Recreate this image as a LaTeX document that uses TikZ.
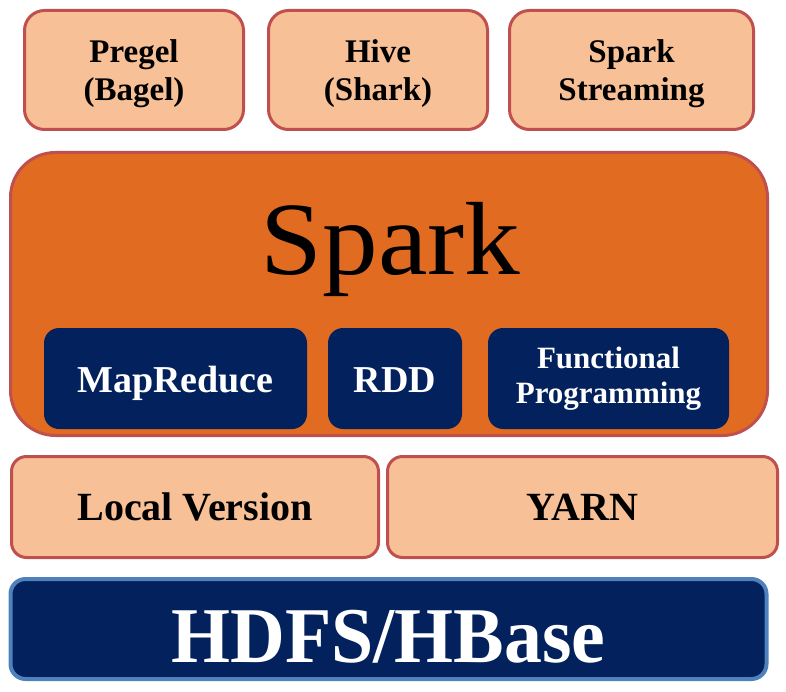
\documentclass[tikz,border=0pt]{standalone}
\usepackage{fontspec}
\setmainfont{Liberation Serif}
\definecolor{peach}{HTML}{F8C096}
\definecolor{redline}{HTML}{C0504D}
\definecolor{sparkorange}{HTML}{E26B22}
\definecolor{navy}{HTML}{03215C}
\definecolor{blueline}{HTML}{4F81BD}
\tikzset{
  topbox/.style={draw=redline, line width=3pt, fill=peach, rounded corners=20pt,
    minimum height=119pt, inner sep=0pt},
  toptext/.style={align=center, inner sep=0pt, yshift=-4pt,
    font=\fontsize{33}{38}\selectfont\bfseries},
  runbox/.style={draw=redline, line width=3pt, fill=peach, rounded corners=15pt,
    minimum height=101pt, inner sep=0pt, text height=27pt, text depth=0pt,
    font=\fontsize{40}{46}\selectfont\bfseries},
  navybox/.style={fill=navy, rounded corners=15pt, minimum height=101pt, inner sep=0pt,
    text=white, align=center},
  sparkbox/.style={draw=redline, line width=3pt, fill=sparkorange, rounded corners=45pt,
    minimum width=757pt, minimum height=283pt},
  hdfsbox/.style={draw=blueline, line width=4pt, fill=navy, rounded corners=15pt,
    minimum width=756pt, minimum height=100pt, inner sep=0pt, text=white,
    text height=67pt, text depth=0pt,
    font=\fontsize{79}{82}\selectfont\bfseries},
}
\begin{document}
\begin{tikzpicture}[x=1pt,y=-1pt]
\useasboundingbox (0,0) rectangle (786,692);
\node[topbox, minimum width=219pt] (pregel) at (134,70) {};
\node[toptext] (pregeltext) at (pregel.center) {Pregel\\(Bagel)};
\node[topbox, minimum width=219pt] (hive) at (378,70) {};
\node[toptext] (hivetext) at (hive.center) {Hive\\(Shark)};
\node[topbox, minimum width=244pt] (streaming) at (631.5,70) {};
\node[toptext] (streamingtext) at (streaming.center) {Spark\\Streaming};
\node[sparkbox] (spark) at (389,294) {};
\node[font=\fontsize{104}{110}\selectfont, anchor=base, inner sep=0pt] (sparklabel) at (390.5,275) {\scalebox{1.07}[1]{Spark}};
\node[navybox, minimum width=263pt, text height=27pt, text depth=0pt, font=\fontsize{38}{42}\selectfont\bfseries] (mapreduce) at (175.5,378.5) {MapReduce};
\node[navybox, minimum width=134pt, text height=27pt, text depth=0pt, font=\fontsize{38}{42}\selectfont\bfseries] (rdd) at (395,378.5) {RDD};
\node[navybox, minimum width=241pt, font=\fontsize{31}{35}\selectfont\bfseries] (func) at (608.5,378.5) {Functional\\Programming};
\node[runbox, minimum width=367pt] (local) at (195,507) {Local Version};
\node[runbox, minimum width=390pt] (yarn) at (582.5,507) {YARN};
\node[hdfsbox] (hdfs) at (388.5,629) {\scalebox{0.96}[1]{HDFS/HBase}};
\end{tikzpicture}
\end{document}
